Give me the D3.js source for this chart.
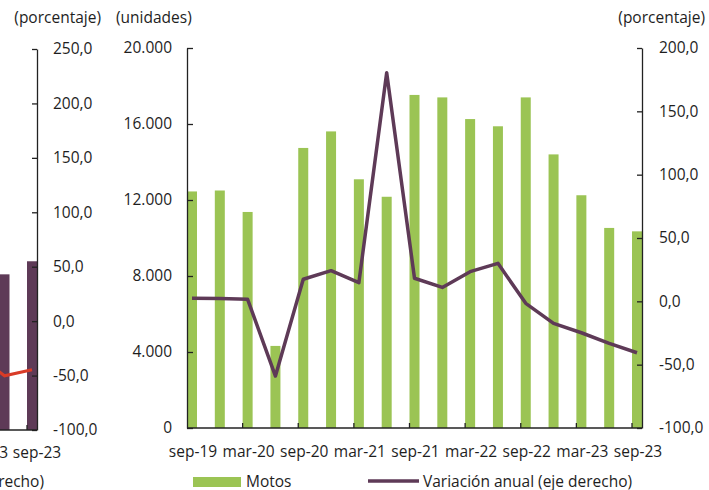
<!DOCTYPE html>
<html>
<head>
<meta charset="utf-8">
<script src="https://cdn.jsdelivr.net/npm/d3@7"></script>
<style>
  body { margin: 0; background: #fff; }
  svg { display: block; font-family: "Open Sans", sans-serif; }
  text { fill: #1e1e1e; }
</style>
</head>
<body>
<script>
// main chart: quarterly, sep-19 .. sep-23
const cats = ["sep-19", "dic-19", "mar-20", "jun-20", "sep-20", "dic-20", "mar-21", "jun-21",
    "sep-21", "dic-21", "mar-22", "jun-22", "sep-22", "dic-22", "mar-23", "jun-23", "sep-23"];
const motos = [12450, 12500, 11370, 4320, 14740, 15610, 13090, 12170,
    17530, 17400, 16260, 15880, 17400, 14400, 12250, 10530, 10350];
const variacion = [2.4, 2.2, 1.6, -59.0, 17.4, 24.2, 14.7, 180.5,
    18.2, 11.0, 23.4, 30.0, -1.6, -17.4, -24.8, -33.2, -40.6];
const unitTicks = [0, 4000, 8000, 12000, 16000, 20000];
const pctTicks = [-100, -50, 0, 50, 100, 150, 200];

// cut-off chart on the left edge (only its last quarters show)
const prevCats = ["mar-23", "jun-23", "sep-23"];
const prevBars = [null, 14300, 15500];
const prevVar = [-31.0, -50.2, -44.6];
const prevPctTicks = [-100, -50, 0, 50, 100, 150, 200, 250];

const W = 709, H = 490;
const green = "#9bc454", purple = "#5e3a57", red = "#d93b27";
const barW = 10;

const loc = d3.formatLocale({ decimal: ",", thousands: ".", grouping: [3], currency: ["", ""], minus: "-" });
const fmtUnits = loc.format(",.0f");
const fmtPct = loc.format(".1f");

const svg = d3.select("body").append("svg")
    .attr("width", W)
    .attr("height", H)
    .style("font-size", "15.5px");

// ---------- main chart ----------
const m = { left: 187, right: 642, top: 48, bottom: 428 };

const x = d3.scalePoint()
    .domain(cats)
    .range([m.left + barW / 2, m.right - barW / 2]);
const y = d3.scaleLinear().domain([0, 20000]).range([m.bottom, m.top]);
const yPct = d3.scaleLinear().domain([-100, 200]).range([m.bottom, m.top]);

svg.append("g")
    .selectAll("rect")
    .data(motos)
    .join("rect")
    .attr("x", (d, i) => x(cats[i]) - barW / 2)
    .attr("y", d => y(d))
    .attr("width", barW)
    .attr("height", d => y(0) - y(d))
    .attr("fill", green);

const line = d3.line()
    .x((d, i) => x(cats[i]))
    .y(d => yPct(d));

svg.append("path")
    .datum(variacion)
    .attr("d", line)
    .attr("fill", "none")
    .attr("stroke", purple)
    .attr("stroke-width", 3.5)
    .attr("stroke-linejoin", "round");

const axL = svg.append("g")
    .attr("transform", `translate(${m.left},0)`)
    .call(d3.axisLeft(y).tickValues(unitTicks).tickFormat(fmtUnits)
        .tickSize(-6).tickSizeOuter(0).tickPadding(15));

const axR = svg.append("g")
    .attr("transform", `translate(${m.right},0)`)
    .call(d3.axisRight(yPct).tickValues(pctTicks).tickFormat(fmtPct)
        .tickSize(-5).tickSizeOuter(0).tickPadding(17));

[axL, axR].forEach(g => {
    g.selectAll("path, line").attr("stroke", "#222").attr("stroke-width", 1.3);
    g.selectAll("text").attr("font-size", "15.5px").attr("fill", "#1e1e1e")
        .attr("font-family", "Open Sans, sans-serif");
});

// x axis: ticks at left edge of every second bar, labels under the bar
const labelCats = cats.filter((d, i) => i % 2 === 0);
const axB = svg.append("g");
axB.append("line")
    .attr("x1", m.left).attr("x2", m.right)
    .attr("y1", m.bottom).attr("y2", m.bottom)
    .attr("stroke", "#222").attr("stroke-width", 1.3);
axB.selectAll(".tk")
    .data(labelCats.slice(1))
    .join("line")
    .attr("class", "tk")
    .attr("x1", d => x(d) - barW / 2).attr("x2", d => x(d) - barW / 2)
    .attr("y1", m.bottom).attr("y2", m.bottom - 5)
    .attr("stroke", "#222").attr("stroke-width", 1.3);
axB.selectAll("text")
    .data(labelCats)
    .join("text")
    .attr("x", d => x(d) + 1)
    .attr("y", m.bottom + 29)
    .attr("text-anchor", "middle")
    .text(d => d);

svg.append("text").attr("x", 116).attr("y", 23).text("(unidades)");
svg.append("text").attr("x", 705).attr("y", 23).attr("text-anchor", "end").text("(porcentaje)");

// legend
const leg = svg.append("g");
leg.append("rect").attr("x", 193).attr("y", 477).attr("width", 48).attr("height", 10).attr("fill", green);
leg.append("text").attr("x", 246).attr("y", 487).text("Motos");
leg.append("line").attr("x1", 368).attr("x2", 419).attr("y1", 481).attr("y2", 481)
    .attr("stroke", purple).attr("stroke-width", 3.5);
leg.append("text").attr("x", 423).attr("y", 487).text("Variación anual (eje derecho)");

// ---------- left, cut-off chart ----------
const p = { axis: 37, top: 49, bottom: 430 };
const px = d3.scalePoint()
    .domain(prevCats)
    .range([-23, p.axis - barW / 2]);
const pyUnits = d3.scaleLinear().domain([0, 35000]).range([p.bottom, p.top]);
const pyPct = d3.scaleLinear().domain([-100, 250]).range([p.bottom, p.top]);

svg.append("g")
    .selectAll("rect")
    .data(prevBars.map((v, i) => ({ c: prevCats[i], v })).filter(d => d.v != null))
    .join("rect")
    .attr("x", d => px(d.c) - barW / 2)
    .attr("y", d => pyUnits(d.v))
    .attr("width", barW)
    .attr("height", d => pyUnits(0) - pyUnits(d.v))
    .attr("fill", purple);

svg.append("path")
    .datum(prevVar)
    .attr("d", d3.line().x((d, i) => px(prevCats[i])).y(d => pyPct(d)))
    .attr("fill", "none")
    .attr("stroke", red)
    .attr("stroke-width", 3);

const axP = svg.append("g")
    .attr("transform", `translate(${p.axis},0)`)
    .call(d3.axisRight(pyPct).tickValues(prevPctTicks).tickFormat(fmtPct)
        .tickSize(-5).tickSizeOuter(0).tickPadding(16));
axP.selectAll("path, line").attr("stroke", "#222").attr("stroke-width", 1.3);
axP.selectAll("text").attr("font-size", "15.5px").attr("fill", "#1e1e1e")
    .attr("font-family", "Open Sans, sans-serif");

svg.append("line")
    .attr("x1", 0).attr("x2", p.axis)
    .attr("y1", p.bottom).attr("y2", p.bottom)
    .attr("stroke", "#222").attr("stroke-width", 1.3);
svg.append("line")
    .attr("x1", px("sep-23") - barW / 2).attr("x2", px("sep-23") - barW / 2)
    .attr("y1", p.bottom).attr("y2", p.bottom - 5)
    .attr("stroke", "#222").attr("stroke-width", 1.3);
svg.append("g")
    .selectAll("text")
    .data(["mar-23", "sep-23"])
    .join("text")
    .attr("x", d => px(d) + 5)
    .attr("y", p.bottom + 28)
    .attr("text-anchor", "middle")
    .text(d => d);

svg.append("text").attr("x", 101).attr("y", 23).attr("text-anchor", "end").text("(porcentaje)");
svg.append("text").attr("x", 44).attr("y", 487).attr("text-anchor", "end").text("Variación anual (eje derecho)");
</script>
</body>
</html>
